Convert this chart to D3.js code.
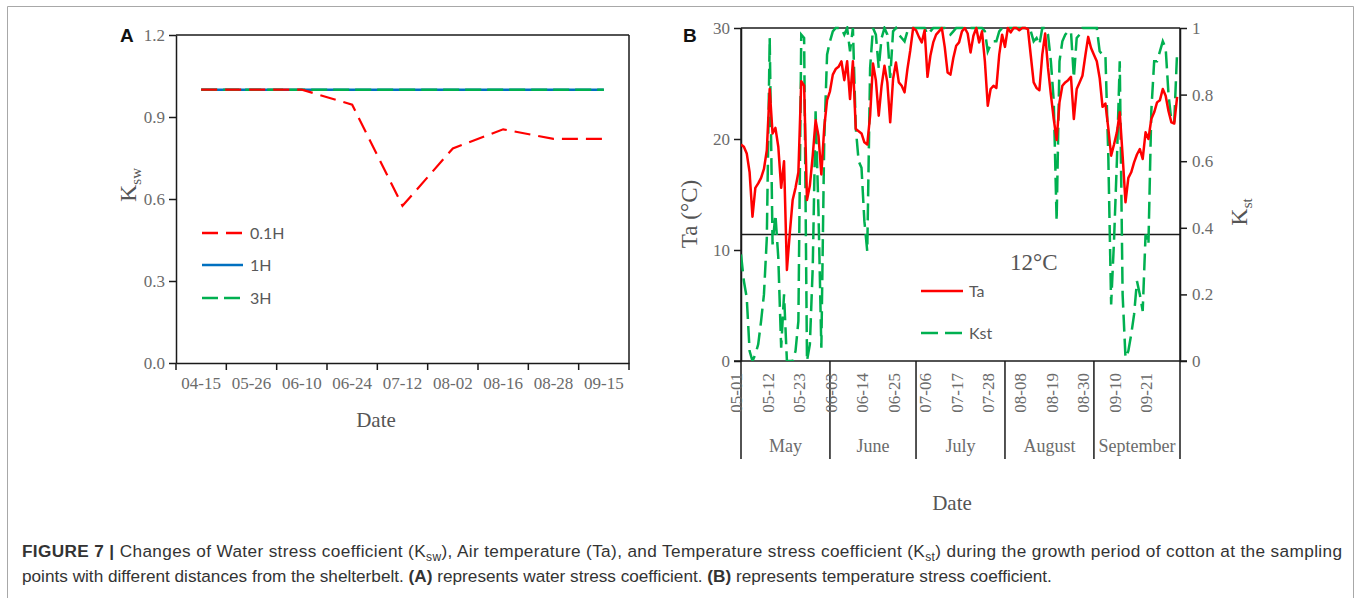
<!DOCTYPE html>
<html>
<head>
<meta charset="utf-8">
<script src="https://cdn.jsdelivr.net/npm/d3@7"></script>
<style>
  body { margin: 0; background: #fff; }
</style>
</head>
<body>
<div id="chart"></div>
<script>
// ---- Panel A data: water stress coefficient
var kswDates = ["04-15", "05-26", "06-10", "06-24", "07-12", "08-02", "08-16", "08-28", "09-15"];
var ksw01H = [1.0, 1.0, 1.0, 0.945, 0.575, 0.785, 0.855, 0.82, 0.82];
var ksw1H  = [1.0, 1.0, 1.0, 1.0, 1.0, 1.0, 1.0, 1.0, 1.0];
var ksw3H  = [1.0, 1.0, 1.0, 1.0, 1.0, 1.0, 1.0, 1.0, 1.0];
var kswTicks = [0, 0.3, 0.6, 0.9, 1.2];

// ---- Panel B data: daily air temperature and temperature stress coefficient (May 1 - Sep 30)
var taValues = [
  19.5, 19.3, 18.7, 17.0, 13.0, 15.6, 16.0, 16.5, 17.3, 19.0,
  24.5, 20.5, 21.0, 19.3, 15.6, 18.0, 8.2, 11.5, 14.5, 15.6,
  17.0, 25.2, 24.8, 14.5, 15.8, 18.5, 21.7, 20.3, 16.8, 21.0,
  23.5, 24.3, 25.8, 26.3, 26.5, 27.0, 25.3, 27.0, 23.6, 27.0,
  20.9, 20.7, 20.5, 19.7, 19.5, 22.1, 26.8, 25.3, 22.1, 24.8,
  26.6, 25.1, 21.5, 25.4, 26.9, 25.1, 24.8, 24.2, 26.3, 28.0,
  30.0, 29.8, 29.2, 28.7, 29.8, 25.6, 27.5, 28.7, 29.4, 29.7,
  30.0, 28.3, 26.0, 25.8, 27.3, 28.4, 28.7, 29.7, 30.0, 29.5,
  27.8, 29.3, 30.0, 28.7, 29.7, 27.0, 23.0, 24.5, 24.8, 24.6,
  27.6, 29.4, 28.3, 30.0, 29.6, 30.0, 30.0, 29.8, 30.0, 30.0,
  29.9, 27.5, 25.1, 24.6, 24.4, 27.6, 29.5, 26.4, 24.0, 21.8,
  19.9, 23.3, 24.8, 25.1, 25.3, 25.6, 21.8, 24.5, 25.1, 25.7,
  27.5, 29.2, 28.2, 27.6, 27.0, 25.5, 22.9, 23.2, 21.0, 18.5,
  19.5, 20.6, 22.4, 18.5, 14.3, 16.5, 17.0, 17.9, 18.6, 19.1,
  18.2, 20.6, 20.0, 21.8, 22.4, 23.3, 23.5, 24.5, 23.9, 22.5,
  21.5, 21.4, 23.8
];
var kstValues = [
  0.32, 0.24, 0.19, 0.03, 0.00, 0.02, 0.05, 0.12, 0.20, 0.37,
  0.97, 0.35, 0.44, 0.31, 0.04, 0.20, 0.00, 0.00, 0.00, 0.03,
  0.12, 0.98, 0.97, 0.00, 0.05, 0.28, 0.75, 0.45, 0.04, 0.66,
  0.92, 0.96, 0.99, 1.00, 1.00, 1.00, 0.98, 1.00, 0.93, 1.00,
  0.70, 0.60, 0.58, 0.42, 0.33, 0.88, 1.00, 0.98, 0.88, 0.97,
  1.00, 0.98, 0.85, 0.99, 1.00, 0.98, 0.97, 0.96, 0.99, 1.00,
  1.00, 1.00, 1.00, 1.00, 1.00, 0.98, 0.99, 1.00, 1.00, 1.00,
  1.00, 1.00, 0.99, 0.98, 0.99, 1.00, 1.00, 1.00, 1.00, 1.00,
  1.00, 1.00, 1.00, 1.00, 1.00, 0.99, 0.93, 0.95, 0.96, 0.96,
  0.99, 1.00, 1.00, 1.00, 1.00, 1.00, 1.00, 1.00, 1.00, 1.00,
  1.00, 0.99, 0.96, 0.97, 0.95, 1.00, 1.00, 0.98, 0.90, 0.78,
  0.42, 0.90, 0.96, 0.98, 0.99, 0.99, 0.85, 0.97, 0.98, 1.00,
  1.00, 1.00, 1.00, 1.00, 1.00, 0.93, 0.92, 0.92, 0.62, 0.17,
  0.36, 0.60, 0.90, 0.20, 0.01, 0.03, 0.08, 0.14, 0.24, 0.20,
  0.15, 0.38, 0.35, 0.75, 0.90, 0.90, 0.93, 0.96, 0.94, 0.80,
  0.72, 0.72, 0.93
];
var dateTicks = ["05-01", "05-12", "05-23", "06-03", "06-14", "06-25", "07-06",
                 "07-17", "07-28", "08-08", "08-19", "08-30", "09-10", "09-21"];
var monthNames = ["May", "June", "July", "August", "September"];
var taTicks = [0, 10, 20, 30];
var kstTicks = [0, 0.2, 0.4, 0.6, 0.8, 1];
var thresholdTa = 11.4;   // drawn line, labelled 12°C

var serif = "'Liberation Serif', 'Times New Roman', serif";
var sans = "Lato, 'Open Sans', sans-serif";
var axisColor = "#1a1a1a";
var labelColor = "#6b6b6b";
var RED = "#ff0000", GREEN = "#00b050", BLUE = "#0070c0";

var svg = d3.select("#chart").append("svg")
    .attr("width", 1357)
    .attr("height", 598);

// outer figure frame
svg.append("path")
    .attr("d", "M7.5,610 V6.5 H1353.5 V610")
    .attr("fill", "none")
    .attr("stroke", "#a8a8a8")
    .attr("stroke-width", 1);

function styleAxis(g) {
    g.selectAll(".domain").attr("stroke", axisColor).attr("stroke-width", 1.5);
    g.selectAll(".tick line").attr("stroke", axisColor).attr("stroke-width", 1.5);
    g.selectAll(".tick text")
        .attr("fill", labelColor)
        .attr("font-family", serif)
        .attr("font-size", 17);
}

function frameLine(x1, y1, x2, y2) {
    svg.append("line")
        .attr("x1", x1).attr("y1", y1).attr("x2", x2).attr("y2", y2)
        .attr("stroke", axisColor)
        .attr("stroke-width", 1.5);
}

// ================= Panel A =================
var a = {left: 176, right: 629, top: 35, bottom: 363};

var xA = d3.scaleBand().domain(kswDates).range([a.left, a.right]);
var yA = d3.scaleLinear().domain([0, 1.2]).range([a.bottom, a.top]);

svg.append("g")
    .attr("transform", "translate(" + a.left + ",0)")
    .call(d3.axisLeft(yA).tickValues(kswTicks).tickFormat(d3.format(".1f")).tickSize(7).tickSizeOuter(0).tickPadding(4))
    .call(styleAxis);

svg.append("g")
    .attr("transform", "translate(0," + a.bottom + ")")
    .call(d3.axisBottom(xA).tickSize(0).tickPadding(14))
    .call(styleAxis);

frameLine(a.left, a.top, a.right, a.top);
frameLine(a.right, a.top, a.right, a.bottom + 7);
xA.domain().forEach(function(d) {
    frameLine(xA(d), a.bottom, xA(d), a.bottom + 7);
});

var lineA = d3.line()
    .x(function(d, i) { return xA(kswDates[i]) + xA.bandwidth() / 2; })
    .y(function(d) { return yA(d); });

svg.append("path").datum(ksw1H)
    .attr("d", lineA).attr("fill", "none")
    .attr("stroke", BLUE).attr("stroke-width", 2.5);
svg.append("path").datum(ksw3H)
    .attr("d", lineA).attr("fill", "none")
    .attr("stroke", GREEN).attr("stroke-width", 2.5)
    .attr("stroke-dasharray", "16,6");
svg.append("path").datum(ksw01H)
    .attr("d", lineA).attr("fill", "none")
    .attr("stroke", RED).attr("stroke-width", 2.2)
    .attr("stroke-dasharray", "16,8");

// legend A
var legendA = [
    {name: "0.1H", color: RED, dash: "16,8", y: 233},
    {name: "1H", color: BLUE, dash: null, y: 265},
    {name: "3H", color: GREEN, dash: "16,6", y: 298}
];
legendA.forEach(function(l) {
    svg.append("line")
        .attr("x1", 202).attr("x2", 243).attr("y1", l.y).attr("y2", l.y)
        .attr("stroke", l.color).attr("stroke-width", 2.5)
        .attr("stroke-dasharray", l.dash);
    svg.append("text")
        .attr("x", 250).attr("y", l.y + 6)
        .attr("font-family", sans).attr("font-size", 16)
        .attr("fill", "#595959")
        .text(l.name);
});

// axis titles A
var kswTitle = svg.append("text")
    .attr("transform", "translate(136,185) rotate(-90)")
    .attr("text-anchor", "middle")
    .attr("font-family", serif).attr("font-size", 24)
    .attr("fill", "#555");
kswTitle.append("tspan").text("K");
kswTitle.append("tspan").attr("dy", 5).attr("font-size", 15).text("sw");

svg.append("text")
    .attr("x", 376).attr("y", 427)
    .attr("text-anchor", "middle")
    .attr("font-family", serif).attr("font-size", 21)
    .attr("fill", "#555")
    .text("Date");

svg.append("text")
    .attr("x", 120).attr("y", 42)
    .attr("font-family", "'Liberation Sans', Arial, sans-serif")
    .attr("font-weight", "bold").attr("font-size", 19)
    .attr("fill", "#111")
    .text("A");

// ================= Panel B =================
var b = {left: 741, right: 1180, top: 28, bottom: 361, frameBottom: 459};
var startDate = new Date(2019, 4, 1);
var endDate = new Date(2019, 9, 1);
var dayDates = taValues.map(function(d, i) { return d3.timeDay.offset(startDate, i); });

var xB = d3.scaleTime().domain([startDate, endDate]).range([b.left, b.right]);
var yT = d3.scaleLinear().domain([0, 30]).range([b.bottom, b.top]);
var yK = d3.scaleLinear().domain([0, 1]).range([b.bottom, b.top]);

svg.append("defs").append("clipPath").attr("id", "clipB")
    .append("rect")
    .attr("x", b.left).attr("y", b.top - 2)
    .attr("width", b.right - b.left).attr("height", b.bottom - b.top + 2);

svg.append("g")
    .attr("transform", "translate(" + b.left + ",0)")
    .call(d3.axisLeft(yT).tickValues(taTicks).tickSize(7).tickSizeOuter(0).tickPadding(4))
    .call(styleAxis);

svg.append("g")
    .attr("transform", "translate(" + b.right + ",0)")
    .call(d3.axisRight(yK).tickValues(kstTicks)
        .tickFormat(function(d) { return (d === 0 || d === 1) ? String(d) : d.toFixed(1); })
        .tickSize(7).tickSizeOuter(0).tickPadding(5))
    .call(styleAxis);

// frame: top, zero line, extended side lines, month dividers
frameLine(b.left, b.top, b.right, b.top);
frameLine(b.left - 7, b.bottom, b.right + 7, b.bottom);
frameLine(b.left, b.top, b.left, b.frameBottom);
frameLine(b.right, b.top, b.right, b.frameBottom);

var monthStarts = d3.timeMonths(startDate, endDate);
monthStarts.slice(1).forEach(function(m) {
    frameLine(xB(m), b.bottom, xB(m), b.frameBottom);
});
monthStarts.forEach(function(m, i) {
    var mid = (xB(m) + xB(d3.timeMonth.offset(m, 1))) / 2;
    svg.append("text")
        .attr("x", mid).attr("y", 452)
        .attr("text-anchor", "middle")
        .attr("font-family", serif).attr("font-size", 18)
        .attr("fill", labelColor)
        .text(monthNames[i]);
});

// rotated date labels
var parseMD = d3.timeParse("%Y-%m-%d");
dateTicks.forEach(function(t) {
    var x = xB(parseMD("2019-" + t));
    svg.append("text")
        .attr("transform", "translate(" + (x + 1) + ",373) rotate(-90)")
        .attr("text-anchor", "end")
        .attr("font-family", serif).attr("font-size", 17)
        .attr("fill", labelColor)
        .text(t);
});

// 12 °C reference line
frameLine(b.left, yT(thresholdTa), b.right, yT(thresholdTa));
svg.append("text")
    .attr("x", 1010).attr("y", 270)
    .attr("font-family", serif).attr("font-size", 23)
    .attr("fill", "#555")
    .text("12\u00b0C");

var plotB = svg.append("g").attr("clip-path", "url(#clipB)");

plotB.append("path").datum(kstValues)
    .attr("d", d3.line()
        .x(function(d, i) { return xB(dayDates[i]); })
        .y(function(d) { return yK(d); }))
    .attr("fill", "none")
    .attr("stroke", GREEN).attr("stroke-width", 2.5)
    .attr("stroke-dasharray", "17,7");

plotB.append("path").datum(taValues)
    .attr("d", d3.line()
        .x(function(d, i) { return xB(dayDates[i]); })
        .y(function(d) { return yT(d); }))
    .attr("fill", "none")
    .attr("stroke", RED).attr("stroke-width", 2.5)
    .attr("stroke-linejoin", "round");

// legend B
var legendB = [
    {name: "Ta", color: RED, dash: null, y: 291},
    {name: "Kst", color: GREEN, dash: "17,7", y: 333}
];
legendB.forEach(function(l) {
    svg.append("line")
        .attr("x1", 921).attr("x2", 963).attr("y1", l.y).attr("y2", l.y)
        .attr("stroke", l.color).attr("stroke-width", 2.5)
        .attr("stroke-dasharray", l.dash);
    svg.append("text")
        .attr("x", 969).attr("y", l.y + 6)
        .attr("font-family", sans).attr("font-size", 16)
        .attr("fill", "#595959")
        .text(l.name);
});

// axis titles B
svg.append("text")
    .attr("transform", "translate(697,214) rotate(-90)")
    .attr("text-anchor", "middle")
    .attr("font-family", serif).attr("font-size", 23)
    .attr("fill", "#555")
    .text("Ta (\u00b0C)");

var kstTitle = svg.append("text")
    .attr("transform", "translate(1247,212) rotate(-90)")
    .attr("text-anchor", "middle")
    .attr("font-family", serif).attr("font-size", 24)
    .attr("fill", "#555");
kstTitle.append("tspan").text("K");
kstTitle.append("tspan").attr("dy", 5).attr("font-size", 15).text("st");

svg.append("text")
    .attr("x", 952).attr("y", 510)
    .attr("text-anchor", "middle")
    .attr("font-family", serif).attr("font-size", 21)
    .attr("fill", "#555")
    .text("Date");

svg.append("text")
    .attr("x", 683).attr("y", 42)
    .attr("font-family", "'Liberation Sans', Arial, sans-serif")
    .attr("font-weight", "bold").attr("font-size", 19)
    .attr("fill", "#111")
    .text("B");

// ================= Caption =================
var captionLines = [
    [{t: "FIGURE 7 | ", b: true}, {t: "Changes of Water stress coefficient (K"}, {t: "sw", sub: true},
     {t: "), Air temperature (Ta), and Temperature stress coefficient (K"}, {t: "st", sub: true},
     {t: ") during the growth period of cotton at the sampling"}],
    [{t: "points with different distances from the shelterbelt. "}, {t: "(A)", b: true},
     {t: " represents water stress coefficient. "}, {t: "(B)", b: true},
     {t: " represents temperature stress coefficient."}]
];
var captionWidths = [1320, null];
captionLines.forEach(function(line, li) {
    var txt = svg.append("text")
        .attr("x", 22).attr("y", 557 + li * 25)
        .attr("font-family", "'Liberation Sans', Arial, Helvetica, sans-serif")
        .attr("font-size", 17.2)
        .attr("fill", "#333");
    if (captionWidths[li]) {
        txt.attr("textLength", captionWidths[li]).attr("lengthAdjust", "spacing");
    }
    var shifted = false;
    line.forEach(function(seg) {
        var ts = txt.append("tspan").text(seg.t);
        if (seg.b) ts.attr("font-weight", "bold");
        if (seg.sub) { ts.attr("dy", 4).attr("font-size", 12); shifted = true; }
        else if (shifted) { ts.attr("dy", -4); shifted = false; }
    });
});
</script>
</body>
</html>
